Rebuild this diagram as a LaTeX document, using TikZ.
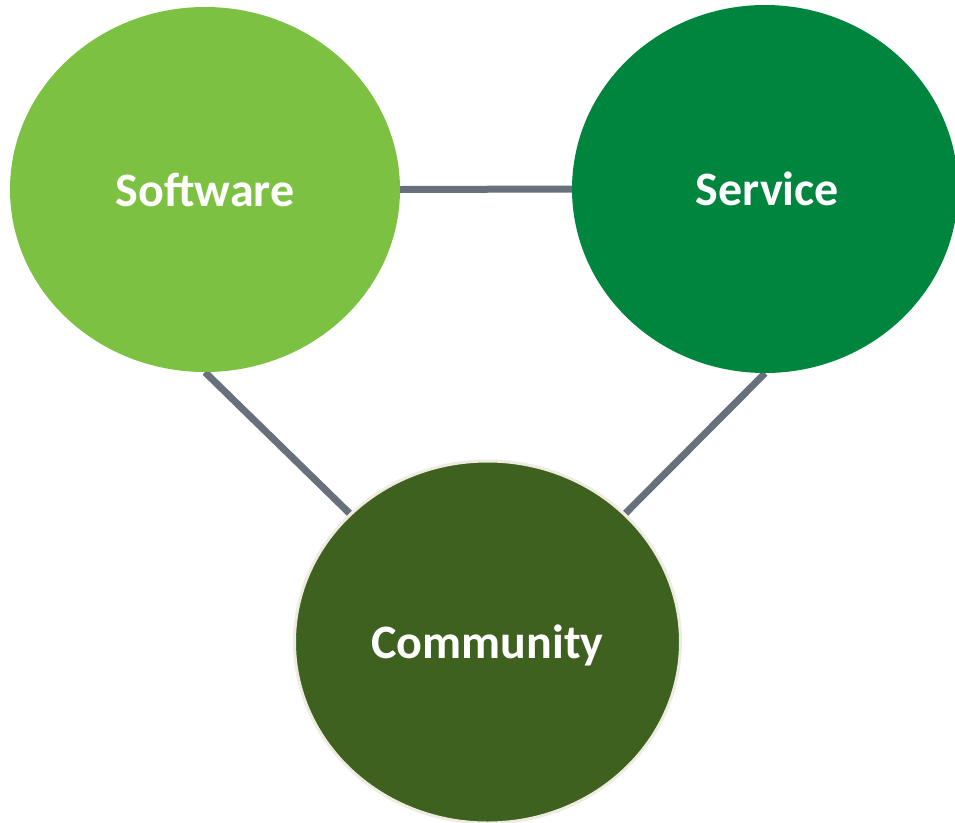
\documentclass[tikz,border=0pt]{standalone}
\usepackage{fontspec}
\setmainfont{Carlito}
\usetikzlibrary{shapes.geometric,backgrounds}
\definecolor{swgreen}{RGB}{125,193,66}
\definecolor{svgreen}{RGB}{0,133,63}
\definecolor{cmgreen}{RGB}{63,97,32}
\definecolor{linkgray}{RGB}{103,112,123}
\definecolor{rimbeige}{RGB}{238,236,225}
\begin{document}
\begin{tikzpicture}[x=1pt,y=-1pt,
  bubble/.style={ellipse,inner sep=0pt,text depth=0pt,text=white,font=\fontsize{48}{57}\selectfont\bfseries},
  link/.style={draw=linkgray,line width=7pt}]
\useasboundingbox (0,0) rectangle (955,822);
\node[bubble,fill=swgreen,minimum width=390pt,minimum height=365pt] (sw) at (205,189.5) {Software};
\node[bubble,fill=svgreen,minimum width=386pt,minimum height=368pt] (sv) at (765,189) {\hspace*{5pt}Service};
\node[bubble,fill=cmgreen,draw=rimbeige,line width=3pt,minimum width=386pt,minimum height=362pt] (cm) at (487.5,642) {Community};
\begin{scope}[on background layer]
\draw[link] (sw.east) -- (sv.west);
\draw[link] (sw.south) -- (cm.137);
\draw[link] (sv.south) -- (cm.43);
\end{scope}
\end{tikzpicture}
\end{document}
